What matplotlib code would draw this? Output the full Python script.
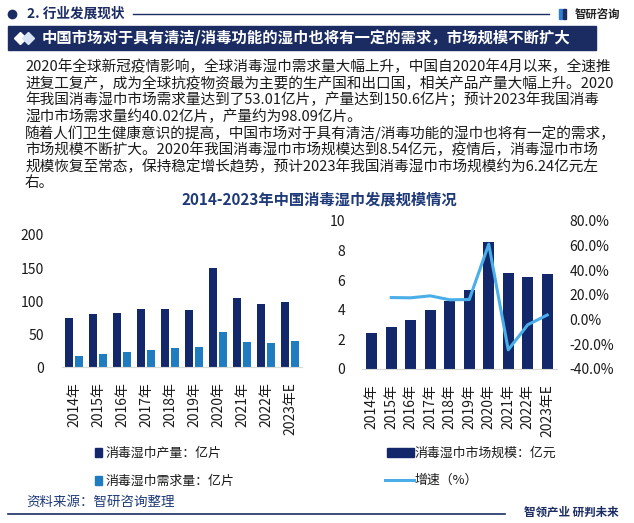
import matplotlib.pyplot as plt
import matplotlib.patches as mpatches
from matplotlib.ticker import FuncFormatter
import numpy as np

plt.rcParams['font.family'] = ['Noto Sans CJK SC', 'DejaVu Sans']

# data
years = ['2014年', '2015年', '2016年', '2017年', '2018年', '2019年',
         '2020年', '2021年', '2022年', '2023年E']
production = [75, 80.8, 82, 88, 88, 86.8, 150.6, 105, 96, 98.09]   # 亿片
demand = [17.6, 20.6, 23, 26.7, 29.7, 31.2, 53.01, 38.3, 37.3, 40.02]  # 亿片
market_size = [2.45, 2.85, 3.3, 4.0, 4.6, 5.35, 8.54, 6.47, 6.22, 6.42]  # 亿元
growth = [np.nan, 17.8, 17.6, 19.2, 16.0, 16.2, 61.0, -24.5, -4.2, 3.7]  # %

header = '2. 行业发展现状'
banner = '中国市场对于具有清洁/消毒功能的湿巾也将有一定的需求，市场规模不断扩大'
paragraph = [
    '2020年全球新冠疫情影响，全球消毒湿巾需求量大幅上升，中国自2020年4月以来，全速推',
    '进复工复产，成为全球抗疫物资最为主要的生产国和出口国，相关产品产量大幅上升。2020',
    '年我国消毒湿巾市场需求量达到了53.01亿片，产量达到150.6亿片；预计2023年我国消毒',
    '湿巾市场需求量约40.02亿片，产量约为98.09亿片。',
    '随着人们卫生健康意识的提高，中国市场对于具有清洁/消毒功能的湿巾也将有一定的需求，',
    '市场规模不断扩大。2020年我国消毒湿巾市场规模达到8.54亿元，疫情后，消毒湿巾市场',
    '规模恢复至常态，保持稳定增长趋势，预计2023年我国消毒湿巾市场规模约为6.24亿元左',
    '右。',
]
chart_title = '2014-2023年中国消毒湿巾发展规模情况'
legend_labels = ['消毒湿巾产量：亿片', '消毒湿巾需求量：亿片', '消毒湿巾市场规模：亿元', '增速（%）']

navy = '#1b2c62'
c_prod = '#13286a'
c_dem = '#1f7cc0'
c_line = '#4aaee8'
txt = '#1a1a1a'

W, H = 634, 523
fig = plt.figure(figsize=(W / 100, H / 100), dpi=100)

# background axes in pixel coordinates for the page decoration
bg = fig.add_axes([0, 0, 1, 1])
bg.set_xlim(0, W)
bg.set_ylim(H, 0)
bg.axis('off')

# header row
bg.plot([12], [14], marker='o', markersize=6, color=navy)
bg.text(27, 14, header, fontsize=9.8, fontweight='bold', color=navy, va='center')
bg.plot([133, 549], [14, 14], color=navy, lw=1)
bg.add_patch(mpatches.Rectangle((559, 9), 3, 10, color='#2f7fd0'))
bg.add_patch(mpatches.Rectangle((563, 9), 3, 10, color=navy))
bg.text(575, 14, '智研咨询', fontsize=8.2, fontweight='bold', color='#222222', va='center')

# banner
bg.add_patch(mpatches.Rectangle((8, 26), 588, 24, color=navy))
bg.plot([20], [38], marker='D', markersize=6, color='white')
bg.plot([28], [38], marker='D', markersize=6, color='#d8e4f5')
bg.text(42, 38, banner, fontsize=11.05, fontweight='bold', color='white', va='center')

# paragraph
for i, line in enumerate(paragraph):
    bg.text(25, 67 + i * 16.6, line, fontsize=10.55, color=txt, va='center')

bg.text(319, 200, chart_title, fontsize=11, fontweight='bold', color='#1e3a78',
        va='center', ha='center')

x = np.arange(len(years))

# left chart: production / demand
ax1 = fig.add_axes([62 / W, 1 - 367.3 / H, 240 / W, 132.3 / H])
ax1.set_facecolor('none')
ax1.bar(x - 0.21, production, width=0.34, color=c_prod)
ax1.bar(x + 0.21, demand, width=0.34, color=c_dem)
ax1.set_xlim(-0.5, len(years) - 0.5)
ax1.set_ylim(0, 200)
ax1.set_yticks([0, 50, 100, 150, 200])
ax1.set_xticks(x)
ax1.set_xticklabels(years, rotation=90, fontsize=9.5, color=txt)
for s in ['top', 'right', 'left']:
    ax1.spines[s].set_visible(False)
ax1.spines['bottom'].set_color('#d9d9d9')
ax1.tick_params(axis='both', length=0, labelsize=10, colors=txt)
ax1.tick_params(axis='x', pad=11)
ax1.tick_params(axis='y', pad=13)

# right chart: market size + growth
ax2 = fig.add_axes([362 / W, 1 - 369 / H, 195 / W, 148.3 / H])
ax2.set_facecolor('none')
ax2.bar(x, market_size, width=0.56, color=c_prod)
ax2.set_xlim(-0.5, len(years) - 0.5)
ax2.set_ylim(0, 10)
ax2.set_yticks([0, 2, 4, 6, 8, 10])
ax2.set_xticks(x)
ax2.set_xticklabels(years, rotation=90, fontsize=9.5, color=txt)
for s in ['top', 'right', 'left']:
    ax2.spines[s].set_visible(False)
ax2.spines['bottom'].set_color('#d9d9d9')
ax2.tick_params(axis='both', length=0, labelsize=10, colors=txt)
ax2.tick_params(axis='x', pad=11)
ax2.tick_params(axis='y', pad=12)

ax3 = ax2.twinx()
ax3.plot(x, growth, color=c_line, lw=2.2)
ax3.set_ylim(-40, 80)
ax3.set_yticks([-40, -20, 0, 20, 40, 60, 80])
ax3.yaxis.set_major_formatter(FuncFormatter(lambda v, p: f'{v:.1f}%'))
for s in ax3.spines.values():
    s.set_visible(False)
ax3.tick_params(axis='y', length=0, labelsize=10, colors=txt, pad=9)

# legends
bg.add_patch(mpatches.Rectangle((95, 448), 7, 9, color=c_prod))
bg.text(106, 453, legend_labels[0], fontsize=9.3, color=txt, va='center')
bg.add_patch(mpatches.Rectangle((95, 476), 7, 9, color=c_dem))
bg.text(106, 481, legend_labels[1], fontsize=9.3, color=txt, va='center')
bg.add_patch(mpatches.Rectangle((387, 448), 27, 9, color=c_prod))
bg.text(415, 453, legend_labels[2], fontsize=9.3, color=txt, va='center')
bg.plot([385, 414], [480, 480], color=c_line, lw=2.2)
bg.text(415, 480, legend_labels[3], fontsize=9.3, color=txt, va='center')

# footer
bg.text(26, 502, '资料来源：智研咨询整理', fontsize=9.7, color='#1e3a78', va='center')
bg.plot([8, 505], [514, 514], color=navy, lw=1.2)
bg.text(524, 512, '智领产业 研判未来', fontsize=8.3, fontweight='bold', color=navy, va='center')

fig.savefig('out.png', dpi=100)
